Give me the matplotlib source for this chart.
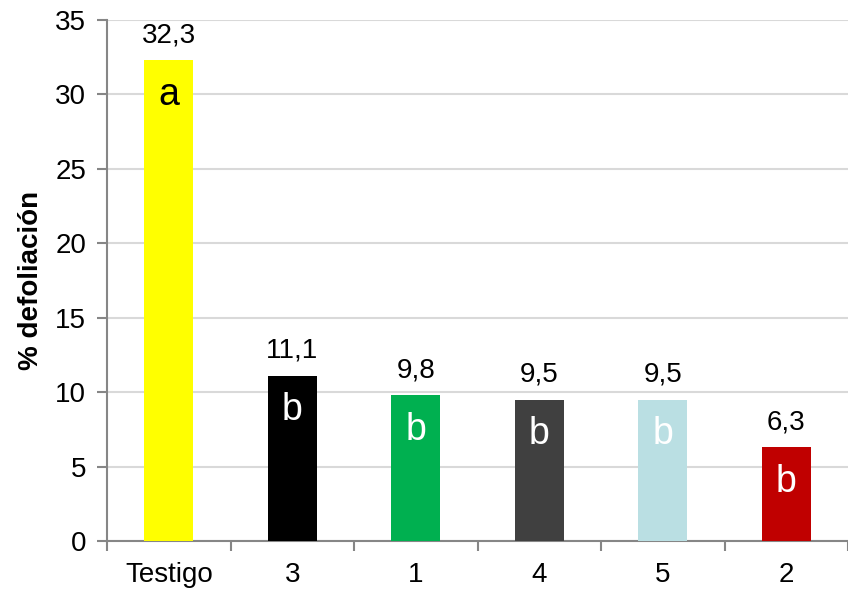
import matplotlib
matplotlib.use("Agg")
import matplotlib.pyplot as plt
from matplotlib.ticker import MultipleLocator, FixedLocator

plt.rcParams['font.family'] = ['Liberation Sans', 'DejaVu Sans']

categories = ["Testigo", "3", "1", "4", "5", "2"]
values = [32.3, 11.1, 9.8, 9.5, 9.5, 6.3]
value_labels = ["32,3", "11,1", "9,8", "9,5", "9,5", "6,3"]
letters = ["a", "b", "b", "b", "b", "b"]
bar_colors = ["#FFFF00", "#000000", "#00B050", "#404040", "#BADFE3", "#C00000"]
letter_colors = ["#000000", "#FFFFFF", "#FFFFFF", "#FFFFFF", "#FFFFFF", "#FFFFFF"]

fig = plt.figure(figsize=(8.48, 5.93), dpi=100)
ax = fig.add_axes([107/848, 1 - 541/593, 1 - 107/848, (541 - 20)/593])

x = range(len(categories))
ax.bar(x, values, width=0.4, color=bar_colors, zorder=3)

for i, (v, lab, let, lc) in enumerate(zip(values, value_labels, letters, letter_colors)):
    ax.annotate(lab, (i, v), xytext=(0, 13), textcoords="offset points",
                ha="center", va="baseline", fontsize=20, color="#000000")
    ax.annotate(let, (i, v), xytext=(0, -25), textcoords="offset points",
                ha="center", va="center", fontsize=27, color=lc,
                family=['Liberation Sans Narrow', 'Liberation Sans'])

ax.set_xlim(-0.5, 5.5)
ax.set_ylim(0, 35)
ax.yaxis.set_major_locator(MultipleLocator(5))
ax.set_xticks(list(x))
ax.set_xticklabels(categories)
ax.xaxis.set_minor_locator(FixedLocator([i - 0.5 for i in range(len(categories) + 1)]))

ax.grid(axis="y", color="#D9D9D9", linewidth=1.5, zorder=0)
ax.set_axisbelow(True)

for side in ("top", "right"):
    ax.spines[side].set_visible(False)
for side in ("left", "bottom"):
    ax.spines[side].set_color("#868686")
    ax.spines[side].set_linewidth(1.5)

ax.tick_params(axis="y", which="major", length=7, width=1.5, color="#868686",
               labelsize=20, pad=8)
ax.tick_params(axis="x", which="major", length=0, labelsize=20, pad=15)
ax.tick_params(axis="x", which="minor", length=7, width=1.5, color="#868686")

ax.set_ylabel("% defoliación", fontsize=20, fontweight="bold", labelpad=8)

fig.savefig("out.png", dpi=100)
